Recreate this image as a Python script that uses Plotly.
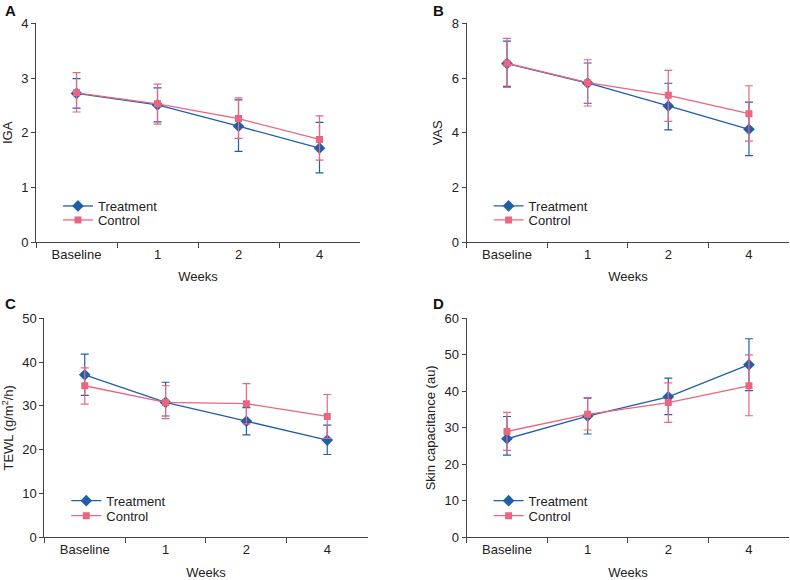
import plotly.graph_objects as go
from plotly.subplots import make_subplots

weeks = ["Baseline", "1", "2", "4"]

# IGA
iga_treat = [2.72, 2.51, 2.12, 1.72]
iga_treat_hi = [2.99, 2.82, 2.60, 2.19]
iga_treat_lo = [2.45, 2.20, 1.66, 1.27]
iga_ctrl = [2.73, 2.53, 2.26, 1.88]
iga_ctrl_hi = [3.10, 2.89, 2.64, 2.31]
iga_ctrl_lo = [2.38, 2.16, 1.90, 1.50]

# VAS
vas_treat = [6.53, 5.82, 4.98, 4.13]
vas_treat_hi = [7.35, 6.55, 5.81, 5.12]
vas_treat_lo = [5.70, 5.08, 4.11, 3.17]
vas_ctrl = [6.54, 5.83, 5.37, 4.70]
vas_ctrl_hi = [7.45, 6.67, 6.28, 5.72]
vas_ctrl_lo = [5.66, 4.98, 4.42, 3.70]

# TEWL
tewl_treat = [37.1, 30.8, 26.5, 22.2]
tewl_treat_hi = [41.8, 35.4, 29.6, 25.6]
tewl_treat_lo = [32.4, 27.7, 23.4, 18.9]
tewl_ctrl = [34.6, 30.8, 30.5, 27.6]
tewl_ctrl_hi = [38.7, 34.6, 35.1, 32.6]
tewl_ctrl_lo = [30.4, 27.1, 25.9, 22.6]

# Skin capacitance
cap_treat = [27.0, 33.2, 38.5, 47.3]
cap_treat_hi = [33.1, 38.1, 43.6, 54.4]
cap_treat_lo = [22.5, 28.3, 33.6, 40.2]
cap_ctrl = [29.0, 33.7, 36.9, 41.5]
cap_ctrl_hi = [34.2, 38.3, 42.3, 50.0]
cap_ctrl_lo = [23.8, 29.4, 31.5, 33.3]

BLUE = "#1f5fa8"
PINK = "#ea6680"
FONT = "Liberation Sans, Arial, sans-serif"

panels = [
    dict(label="A", ytitle="IGA", yr=[0, 4], dt=1,
         treat=(iga_treat, iga_treat_hi, iga_treat_lo),
         ctrl=(iga_ctrl, iga_ctrl_hi, iga_ctrl_lo)),
    dict(label="B", ytitle="VAS", yr=[0, 8], dt=2,
         treat=(vas_treat, vas_treat_hi, vas_treat_lo),
         ctrl=(vas_ctrl, vas_ctrl_hi, vas_ctrl_lo)),
    dict(label="C", ytitle="TEWL (g/m<sup>2</sup>/h)", yr=[0, 50], dt=10,
         treat=(tewl_treat, tewl_treat_hi, tewl_treat_lo),
         ctrl=(tewl_ctrl, tewl_ctrl_hi, tewl_ctrl_lo)),
    dict(label="D", ytitle="Skin capacitance (au)", yr=[0, 60], dt=10,
         treat=(cap_treat, cap_treat_hi, cap_treat_lo),
         ctrl=(cap_ctrl, cap_ctrl_hi, cap_ctrl_lo)),
]

# plot-area domains in paper fractions (790 x 580)
x_domains = [[0.0456, 0.4557], [0.5907, 0.9991], [0.0561, 0.4654], [0.5907, 0.9991]]
y_domains = [[0.5822, 0.9598], [0.5822, 0.9598], [0.0736, 0.4512], [0.0736, 0.4512]]
label_pos = [(0.004, 1.0), (0.545, 1.0), (0.004, 0.495), (0.545, 0.495)]
# legend row centres (paper y) for Treatment / Control
legend_rows = [(0.6448, 0.6207), (0.6448, 0.6207), (0.1367, 0.1109), (0.1367, 0.1109)]
weeks_standoff = [10, 10, 14, 14]

fig = make_subplots(rows=2, cols=2)

for i, p in enumerate(panels):
    row, col = i // 2 + 1, i % 2 + 1
    for j, (name, data, color, sym, size) in enumerate([
        ("Treatment", p["treat"], BLUE, "diamond", 9),
        ("Control", p["ctrl"], PINK, "square", 7),
    ]):
        k = 2 * i + j + 1
        leg = "legend" if k == 1 else f"legend{k}"
        vals, hi, lo = data
        fig.add_trace(
            go.Scatter(
                x=weeks,
                y=vals,
                name=name,
                mode="lines+markers",
                line=dict(color=color, width=1.3),
                marker=dict(symbol=sym, size=size, color=color),
                error_y=dict(
                    type="data",
                    symmetric=False,
                    array=[h - v for h, v in zip(hi, vals)],
                    arrayminus=[v - l for v, l in zip(vals, lo)],
                    color=color,
                    thickness=1.2,
                    width=4,
                ),
                legend=leg,
            ),
            row=row,
            col=col,
        )
        fig.update_layout(
            **{
                leg: dict(
                    x=x_domains[i][0] + 0.0278,
                    y=legend_rows[i][j],
                    xanchor="left",
                    yanchor="middle",
                    bgcolor="rgba(0,0,0,0)",
                    font=dict(size=13, color="#222"),
                    itemwidth=30,
                )
            }
        )

    ax = "" if i == 0 else str(i + 1)
    fig.update_layout(
        **{
            f"xaxis{ax}": dict(
                domain=x_domains[i],
                type="category",
                range=[-0.5, 3.5],
                tickson="boundaries",
                ticks="outside",
                ticklen=5,
                tickcolor="#444",
                showline=True,
                linecolor="#444",
                linewidth=1,
                showgrid=False,
                zeroline=False,
                automargin=False,
                title=dict(text="Weeks", standoff=weeks_standoff[i], font=dict(size=13)),
            ),
            f"yaxis{ax}": dict(
                domain=y_domains[i],
                range=p["yr"],
                dtick=p["dt"],
                ticks="outside",
                ticklen=4,
                tickcolor="#444",
                showline=True,
                linecolor="#444",
                linewidth=1,
                showgrid=False,
                zeroline=False,
                automargin=False,
                title=dict(text=p["ytitle"], standoff=6, font=dict(size=13)),
            ),
        }
    )

    fig.add_annotation(
        x=label_pos[i][0],
        y=label_pos[i][1],
        xref="paper",
        yref="paper",
        xanchor="left",
        yanchor="top",
        text=f"<b>{p['label']}</b>",
        showarrow=False,
        font=dict(size=15, color="#111"),
    )

fig.update_layout(
    width=790,
    height=580,
    margin=dict(l=0, r=0, t=0, b=0),
    plot_bgcolor="white",
    paper_bgcolor="white",
    font=dict(family=FONT, size=13, color="#222"),
    showlegend=True,
)

# put the figure at the page origin with nothing else taking space
page_css = (
    "document.documentElement.style.margin = '0';"
    "document.documentElement.style.overflow = 'hidden';"
    "document.body.style.margin = '0';"
    "document.body.style.padding = '0';"
    "document.body.style.overflow = 'hidden';"
)
fig.write_html(
    "out.html",
    config={"displayModeBar": False},
    post_script=page_css,
)
